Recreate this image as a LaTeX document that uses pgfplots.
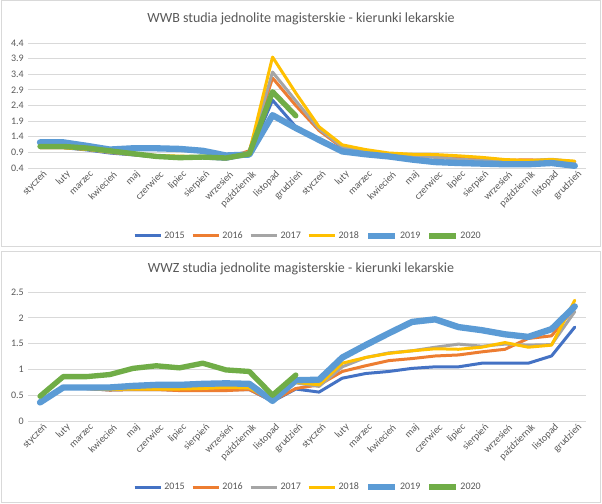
\documentclass[border=0pt]{standalone}
\usepackage{pgfplots}
\pgfplotsset{compat=1.18}
\usepackage{pgfplotstable}
\usepackage{fontspec}
\setmainfont{Carlito}
\definecolor{c15}{HTML}{4472C4}
\definecolor{c16}{HTML}{ED7D31}
\definecolor{c17}{HTML}{A5A5A5}
\definecolor{c18}{HTML}{FFC000}
\definecolor{c19}{HTML}{5B9BD5}
\definecolor{c20}{HTML}{70AD47}
\definecolor{txt}{HTML}{595959}
\definecolor{grd}{HTML}{D9D9D9}

\pgfplotstableread{
i  a15  a16  a17  a18  a19  a20
0  1.05 1.05 1.07 1.05 1.22 1.09
1  1.05 1.05 1.07 1.05 1.22 1.09
2  0.98 1.00 1.00 1.00 1.11 1.04
3  0.88 0.90 0.90 0.92 0.99 0.95
4  0.82 0.83 0.84 0.86 1.03 0.86
5  0.75 0.76 0.78 0.80 1.03 0.77
6  0.72 0.73 0.75 0.78 1.01 0.73
7  0.72 0.74 0.74 0.76 0.95 0.75
8  0.68 0.70 0.70 0.72 0.80 0.72
9  0.82 0.95 0.88 0.90 0.83 0.85
10 2.57 3.28 3.47 3.95 2.09 2.84
11 1.72 2.40 2.55 2.80 1.68 2.07
12 1.30 1.60 1.65 1.72 1.30 nan
13 0.92 1.05 1.08 1.14 0.93 nan
14 0.82 0.90 0.92 0.99 0.84 nan
15 0.75 0.85 0.86 0.88 0.77 nan
16 0.66 0.80 0.80 0.84 0.67 nan
17 0.60 0.77 0.74 0.83 0.59 nan
18 0.57 0.74 0.68 0.79 0.56 nan
19 0.55 0.70 0.64 0.74 0.54 nan
20 0.53 0.65 0.62 0.67 0.52 nan
21 0.53 0.66 0.63 0.64 0.52 nan
22 0.55 0.64 0.68 0.67 0.56 nan
23 0.48 0.60 0.60 0.62 0.47 nan
}\wwb

\pgfplotstableread{
i  a15  a16  a17  a18  a19  a20
0  0.35 0.35 0.36 0.36 0.36 0.48
1  0.64 0.64 0.64 0.64 0.65 0.86
2  0.63 0.63 0.63 0.63 0.65 0.86
3  0.60 0.60 0.61 0.61 0.65 0.90
4  0.61 0.61 0.62 0.62 0.68 1.02
5  0.61 0.61 0.63 0.62 0.70 1.07
6  0.60 0.59 0.63 0.62 0.70 1.03
7  0.60 0.59 0.64 0.63 0.72 1.12
8  0.61 0.59 0.66 0.65 0.73 0.99
9  0.61 0.61 0.64 0.64 0.72 0.96
10 0.38 0.39 0.40 0.41 0.39 0.50
11 0.62 0.63 0.74 0.75 0.79 0.89
12 0.56 0.70 0.67 0.70 0.80 nan
13 0.83 0.96 1.05 1.12 1.23 nan
14 0.92 1.07 1.23 1.23 1.47 nan
15 0.96 1.17 1.32 1.31 1.70 nan
16 1.02 1.21 1.36 1.36 1.92 nan
17 1.05 1.26 1.43 1.40 1.97 nan
18 1.05 1.28 1.49 1.39 1.82 nan
19 1.12 1.34 1.45 1.43 1.76 nan
20 1.12 1.39 1.49 1.52 1.68 nan
21 1.12 1.60 1.47 1.43 1.63 nan
22 1.26 1.65 1.48 1.47 1.78 nan
23 1.82 2.20 2.12 2.34 2.22 nan
}\wwz

\pgfplotsset{
  mychart/.style={
    scale only axis,
    width=418.5pt,
    xmin=-0.5, xmax=23.5,
    xtick={0,...,23},
    xticklabels={styczeń,luty,marzec,kwiecień,maj,czerwiec,lipiec,sierpień,wrzesień,październik,listopad,grudzień,styczeń,luty,marzec,kwiecień,maj,czerwiec,lipiec,sierpień,wrzesień,październik,listopad,grudzień},
    xticklabel style={rotate=45, anchor=east, font=\fontsize{7.5}{8}\selectfont, text=txt, inner sep=1pt, yshift=-5.5pt, xshift=1.5pt},
    yticklabel style={font=\fontsize{7.5}{8}\selectfont, text=txt},
    axis line style={draw=none},
    major tick length=0pt,
    ymajorgrids,
    grid style={grd, line width=0.6pt},
    clip=false,
    unbounded coords=jump,
    legend columns=6,
    legend style={draw=none, fill=none, font=\fontsize{7.5}{8}\selectfont, text=txt,
      nodes={inner sep=0.8pt},
      /tikz/every odd column/.append style={column sep=0.5pt},
      /tikz/every even column/.append style={column sep=4pt}},
    legend image code/.code={\draw[#1, line cap=butt] (0pt,0pt) -- (20pt,0pt);},
    every axis plot/.append style={line join=round, line cap=round},
  }
}

\begin{document}
\begin{tikzpicture}
\fill[white] (0,0) rectangle (451.5pt,377.25pt);
\draw[grd, line width=0.75pt] (1pt,192pt) rectangle (450.5pt,376.5pt);
\draw[grd, line width=0.75pt] (1pt,0.75pt) rectangle (450.5pt,188.5pt);
\node[text=txt, font=\fontsize{10.5}{12}\selectfont] at (225.75pt,363pt) {WWB studia jednolite magisterskie - kierunki lekarskie};
\node[text=txt, font=\fontsize{10.5}{12}\selectfont] at (225.75pt,175.5pt) {WWZ studia jednolite magisterskie - kierunki lekarskie};

\begin{axis}[mychart,
  at={(21.3pt,251.25pt)}, anchor=south west,
  height=93.75pt,
  ymin=0.4, ymax=4.4,
  ytick={0.4,0.9,1.4,1.9,2.4,2.9,3.4,3.9,4.4},
  yticklabels={0.4,0.9,1.4,1.9,2.4,2.9,3.4,3.9,4.4},
  legend style={at={(0.5,-0.544)}, anchor=center},
]
\addplot[c15, line width=2.25pt] table[x=i, y=a15] {\wwb};
\addplot[c16, line width=2.25pt] table[x=i, y=a16] {\wwb};
\addplot[c17, line width=2.25pt] table[x=i, y=a17] {\wwb};
\addplot[c18, line width=2.25pt] table[x=i, y=a18] {\wwb};
\addplot[c19, line width=4.75pt] table[x=i, y=a19] {\wwb};
\addplot[c20, line width=4pt] table[x=i, y=a20] {\wwb};
\legend{2015,2016,2017,2018,2019,2020}
\end{axis}

\begin{axis}[mychart,
  at={(21.3pt,61.5pt)}, anchor=south west,
  height=96.75pt,
  ymin=0, ymax=2.5,
  ytick={0,0.5,1,1.5,2,2.5},
  yticklabels={0,0.5,1,1.5,2,2.5},
  legend style={at={(0.5,-0.512)}, anchor=center},
]
\addplot[c15, line width=2.25pt] table[x=i, y=a15] {\wwz};
\addplot[c16, line width=2.25pt] table[x=i, y=a16] {\wwz};
\addplot[c17, line width=2.25pt] table[x=i, y=a17] {\wwz};
\addplot[c18, line width=2.25pt] table[x=i, y=a18] {\wwz};
\addplot[c19, line width=4.75pt] table[x=i, y=a19] {\wwz};
\addplot[c20, line width=4pt] table[x=i, y=a20] {\wwz};
\legend{2015,2016,2017,2018,2019,2020}
\end{axis}
\end{tikzpicture}
\end{document}
